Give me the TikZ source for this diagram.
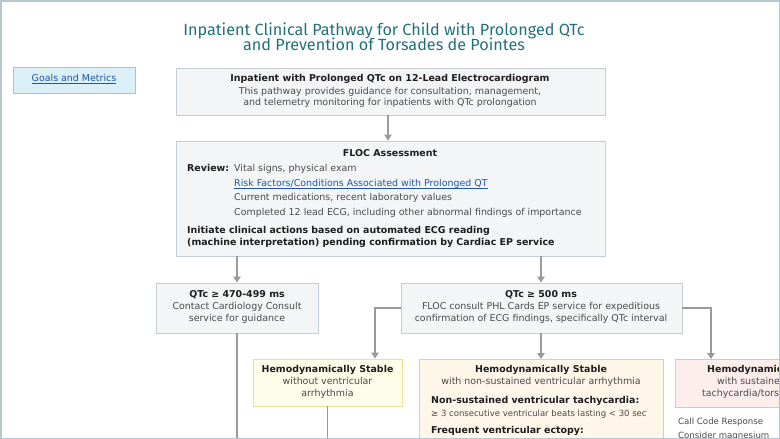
\documentclass[tikz,border=0pt]{standalone}
\usepackage{fontspec}
\setmainfont{DejaVu Sans}
\newfontfamily\titlefont{Fira Sans}
\usetikzlibrary{arrows.meta}
\definecolor{framec}{HTML}{B7C7CF}
\definecolor{titlec}{HTML}{21717C}
\definecolor{boxfill}{HTML}{F3F5F7}
\definecolor{boxdraw}{HTML}{C3CED5}
\definecolor{goalfill}{HTML}{DAEFF6}
\definecolor{goaldraw}{HTML}{A9C3CD}
\definecolor{linkc}{HTML}{1F56A8}
\definecolor{arrowc}{HTML}{9A9A9A}
\definecolor{yfill}{HTML}{FEFDE9}
\definecolor{ydraw}{HTML}{EFE096}
\definecolor{ofill}{HTML}{FEF6E8}
\definecolor{odraw}{HTML}{F5CA8C}
\definecolor{rfill}{HTML}{FDEEEC}
\definecolor{rdraw}{HTML}{F3B9B2}
\definecolor{txtd}{HTML}{1E1E1E}
\definecolor{txtl}{HTML}{4A4A4A}
\newcommand{\bodyf}{\fontsize{9.45}{11}\selectfont}
\newcommand{\smallf}{\fontsize{8.5}{10}\selectfont}
\begin{document}
\begin{tikzpicture}[x=1pt,y=-1pt,
  box/.style={draw=boxdraw, fill=boxfill, line width=0.9pt, inner sep=0pt},
  ybox/.style={box, draw=ydraw, fill=yfill},
  obox/.style={box, draw=odraw, fill=ofill},
  rbox/.style={box, draw=rdraw, fill=rfill},
  gbox/.style={box, draw=goaldraw, fill=goalfill},
  hd/.style={inner sep=0pt, font=\bodyf\bfseries, text=txtd, anchor=mid},
  tx/.style={inner sep=0pt, font=\bodyf, text=txtl, anchor=mid},
  hdl/.style={hd, anchor=mid west},
  txl/.style={tx, anchor=mid west},
  lk/.style={tx, text=linkc},
  uln/.style={draw=linkc, line width=0.7pt},
  arr/.style={draw=arrowc, line width=1.3pt, -{Triangle[length=6pt,width=7.5pt]}},
  ln/.style={draw=arrowc, line width=1.3pt}]
\useasboundingbox (0,0) rectangle (780,439);
\begin{scope}
\clip (1,1) rectangle (779,438);
\fill[white] (0,0) rectangle (780,439);
% title
\node[inner sep=0pt, font=\titlefont\fontsize{16.2}{18}\selectfont, text=titlec, anchor=mid] (t1) at (384,33) {Inpatient Clinical Pathway for Child with Prolonged QTc};
\node[inner sep=0pt, font=\titlefont\fontsize{16.2}{18}\selectfont, text=titlec, anchor=mid] (t2) at (384,48) {and Prevention of Torsades de Pointes};
% goals
\node[gbox, minimum width=122, minimum height=26] (goal) at (74,80) {};
\node[lk] (goaltx) at (74,79) {Goals and Metrics};
\draw[uln] ([yshift=-1.6pt]goaltx.base west) -- ([yshift=-1.6pt]goaltx.base east);
% top box
\node[box, minimum width=429, minimum height=47] (top) at (390.5,91.5) {};
\node[hd] (top1) at (390,79) {Inpatient with Prolonged QTc on 12-Lead Electrocardiogram};
\node[tx] (top2) at (390,92) {This pathway provides guidance for consultation, management,};
\node[tx] (top3) at (390,103) {and telemetry monitoring for inpatients with QTc prolongation};
% FLOC
\node[box, minimum width=429, minimum height=115] (floc) at (390.5,198.5) {};
\node[hd] (fl1) at (390,154) {FLOC Assessment};
\node[hdl] (rev) at (187,169) {Review:};
\node[txl] (fl2) at (234,169) {Vital signs, physical exam};
\node[txl, text=linkc] (fl3) at (234,184) {Risk Factors/Conditions Associated with Prolonged QT};
\draw[uln] ([yshift=-1.6pt]fl3.base west) -- ([yshift=-1.6pt]fl3.base east);
\node[txl] (fl4) at (234,198) {Current medications, recent laboratory values};
\node[txl] (fl5) at (234,213) {Completed 12 lead ECG, including other abnormal findings of importance};
\node[hdl] (fl6) at (187,231) {Initiate clinical actions based on automated ECG reading};
\node[hdl] (fl7) at (187,243) {(machine interpretation) pending confirmation by Cardiac EP service};
% QTc boxes
\node[box, minimum width=162, minimum height=50] (q1) at (237,308) {};
\node[hd] (q1a) at (237,295) {QTc ≥ 470-499 ms};
\node[tx] (q1b) at (237,307) {Contact Cardiology Consult};
\node[tx] (q1c) at (237,319) {service for guidance};
\node[box, minimum width=281, minimum height=50] (q2) at (541.5,308) {};
\node[hd] (q2a) at (541,295) {QTc ≥ 500 ms};
\node[tx] (q2b) at (541,307) {FLOC consult PHL Cards EP service for expeditious};
\node[tx] (q2c) at (541,319) {confirmation of ECG findings, specifically QTc interval};
% third row
\node[ybox, minimum width=149, minimum height=47] (hy) at (327.5,382.5) {};
\node[hd] (hy1) at (327.5,370) {Hemodynamically Stable};
\node[tx] (hy2) at (327.5,382) {without ventricular};
\node[tx] (hy3) at (327.5,394) {arrhythmia};
\node[obox, minimum width=244, minimum height=120, anchor=north west] (ho) at (419,359) {};
\node[hd] (ho1) at (541,370) {Hemodynamically Stable};
\node[tx] (ho2) at (541,382) {with non-sustained ventricular arrhythmia};
\node[hdl] (ho3) at (431,401) {Non-sustained ventricular tachycardia:};
\node[txl, font=\smallf] (ho4) at (431,414) {≥ 3 consecutive ventricular beats lasting < 30 sec};
\node[hdl] (ho5) at (431,431) {Frequent ventricular ectopy:};
\node[rbox, minimum width=210, minimum height=48, anchor=north west] (hr) at (675,359) {};
\node[hd, anchor=mid west] (hr1) at (707,370) {Hemodynamically Unstable};
\node[tx, anchor=mid west] (hr2) at (717,382) {with sustained ventricular};
\node[tx, anchor=mid west] (hr3) at (702,394) {tachycardia/torsades de pointes};
\node[txl, font=\fontsize{8.6}{10}\selectfont] (hr4) at (678,422) {Call Code Response};
\node[txl, font=\fontsize{8.6}{10}\selectfont] (hr5) at (678,436) {Consider magnesium};
\coordinate (e1) at (237,445);
\coordinate (e2) at (327.5,445);
% connectors
\draw[arr] (top.south -| 388,0) -- (floc.north -| 388,0);
\draw[arr] (floc.south -| q1.north) -- (q1.north);
\draw[arr] (floc.south -| 541,0) -- (q2.north -| 541,0);
\draw[ln] (q1.south) -- (e1);
\draw[ln] (hy.south) -- (e2);
\draw[arr] (q2.west |- 0,308) -| (hy.north -| 375,0);
\draw[arr] (q2.south -| 541,0) -- (ho.north -| 541,0);
\draw[arr] (q2.east |- 0,308) -| (hr.north -| 711,0);
\end{scope}
\draw[framec, line width=1.5pt] (0.75,0.75) rectangle (779.25,438.25);
\end{tikzpicture}
\end{document}
